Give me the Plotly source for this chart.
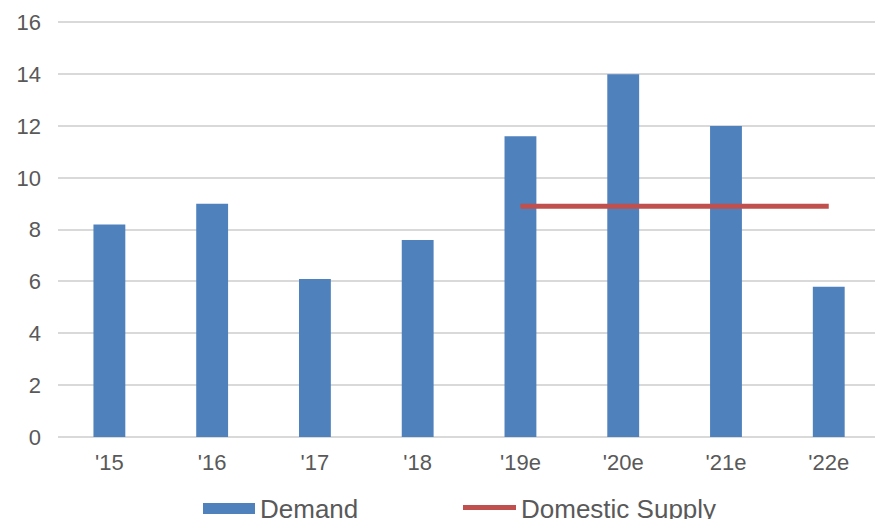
import plotly.graph_objects as go

categories = ["'15", "'16", "'17", "'18", "'19e", "'20e", "'21e", "'22e"]
demand = [8.2, 9.0, 6.1, 7.6, 11.6, 14.0, 12.0, 5.8]
supply_categories = ["'19e", "'20e", "'21e", "'22e"]
domestic_supply = [8.9, 8.9, 8.9, 8.9]
y_ticks = [0, 2, 4, 6, 8, 10, 12, 14, 16]
legend_labels = ["Demand", "Domestic Supply"]

font_family = "Liberation Sans, Arial, sans-serif"
text_color = "#595959"
bar_color = "#4F81BD"
line_color = "#C0504D"

W, H = 875, 519
ML, MR, MT, MB = 58, 0, 21, 82
PW = W - ML - MR
PH = H - MT - MB


def px_x(px):
    return (px - ML) / PW


def px_y(py):
    return (H - MB - py) / PH


fig = go.Figure()
fig.add_trace(go.Bar(
    x=categories, y=demand, name=legend_labels[0],
    marker=dict(color=bar_color, line=dict(width=0)),
))
fig.add_trace(go.Scatter(
    x=supply_categories, y=domestic_supply, name=legend_labels[1],
    mode="lines", line=dict(color=line_color, width=5),
))

# legend drawn manually to match the reference's wide symbols
shapes = [
    dict(type="rect", xref="paper", yref="paper",
         x0=px_x(203), x1=px_x(255), y0=px_y(514), y1=px_y(503),
         fillcolor=bar_color, line=dict(width=0), layer="above"),
    dict(type="line", xref="paper", yref="paper",
         x0=px_x(463), x1=px_x(516), y0=px_y(507.5), y1=px_y(507.5),
         line=dict(color=line_color, width=5), layer="above"),
]
annotations = [
    dict(text=legend_labels[0], xref="paper", yref="paper",
         x=px_x(258), y=px_y(509), xanchor="left", yanchor="middle",
         showarrow=False, font=dict(size=26, color=text_color)),
    dict(text=legend_labels[1], xref="paper", yref="paper",
         x=px_x(519), y=px_y(509), xanchor="left", yanchor="middle",
         showarrow=False, font=dict(size=26, color=text_color)),
]

fig.update_layout(
    width=W, height=H,
    margin=dict(l=ML, r=MR, t=MT, b=MB, autoexpand=False),
    paper_bgcolor="white", plot_bgcolor="white",
    bargap=0.69,
    font=dict(family=font_family, color=text_color, size=22),
    showlegend=False,
    shapes=shapes,
    annotations=annotations,
    xaxis=dict(
        type="category", categoryorder="array", categoryarray=categories,
        range=[-0.5, 7.45],
        showgrid=False, showline=False, zeroline=False,
        ticks="", ticklabelstandoff=10, tickangle=0,
        tickfont=dict(size=22, color=text_color),
    ),
    yaxis=dict(
        range=[0, 16.05], tickvals=y_ticks,
        showgrid=True, gridcolor="#D9D9D9", gridwidth=1.5,
        zeroline=True, zerolinecolor="#D9D9D9", zerolinewidth=1.5,
        showline=False, ticks="", ticklabelstandoff=16,
        tickfont=dict(size=22, color=text_color),
    ),
)

fig.write_html("out.html")
